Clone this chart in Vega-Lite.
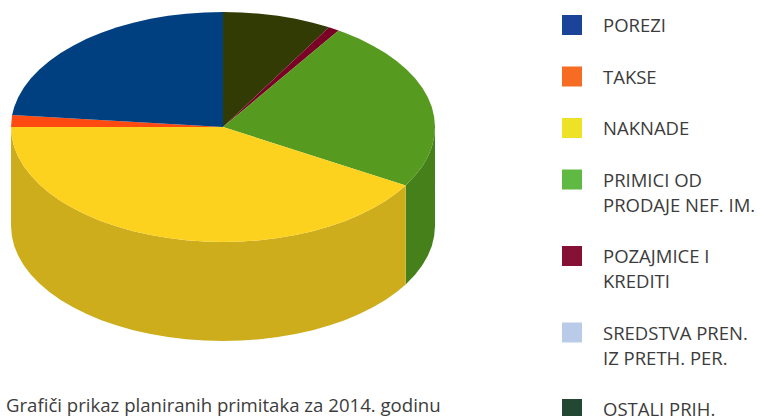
{"$schema":"https://vega.github.io/schema/vega-lite/v6.json","width":760,"height":416,"padding":0,"autosize":{"type":"none"},"background":"white","config":{"view":{"stroke":null}},
"title":{"text":"Grafiči prikaz planiranih primitaka za 2014. godinu","orient":"top","anchor":"start","frame":"group","offset":0,"dx":6,"dy":431,"baseline":"alphabetic","font":"Open Sans","fontSize":18.6,"fontWeight":"normal","color":"#3c3c3c"},
"resolve":{"scale":{"fill":"independent","color":"independent"}},
"layer":[
{"data":{"values":[
{"p":"g","i":1,"x":1,"y":0},{"p":"g","i":2,"x":0.996,"y":-0.087},{"p":"g","i":3,"x":0.985,"y":-0.174},{"p":"g","i":4,"x":0.966,"y":-0.259},{"p":"g","i":5,"x":0.94,"y":-0.342},{"p":"g","i":6,"x":0.906,"y":-0.423},{"p":"g","i":7,"x":0.866,"y":-0.5},{"p":"g","i":8,"x":0.862,"y":-0.508},
{"p":"g","i":9,"x":0.862,"y":-1.369},{"p":"g","i":10,"x":0.866,"y":-1.361},{"p":"g","i":11,"x":0.906,"y":-1.284},{"p":"g","i":12,"x":0.94,"y":-1.203},{"p":"g","i":13,"x":0.966,"y":-1.12},{"p":"g","i":14,"x":0.985,"y":-1.035},{"p":"g","i":15,"x":0.996,"y":-0.948},{"p":"g","i":16,"x":1,"y":-0.861},
{"p":"y","i":1,"x":0.862,"y":-0.508},{"p":"y","i":2,"x":0.819,"y":-0.574},{"p":"y","i":3,"x":0.766,"y":-0.643},{"p":"y","i":4,"x":0.707,"y":-0.707},{"p":"y","i":5,"x":0.643,"y":-0.766},{"p":"y","i":6,"x":0.574,"y":-0.819},{"p":"y","i":7,"x":0.5,"y":-0.866},{"p":"y","i":8,"x":0.423,"y":-0.906},{"p":"y","i":9,"x":0.342,"y":-0.94},{"p":"y","i":10,"x":0.259,"y":-0.966},{"p":"y","i":11,"x":0.174,"y":-0.985},{"p":"y","i":12,"x":0.087,"y":-0.996},{"p":"y","i":13,"x":0,"y":-1},{"p":"y","i":14,"x":-0.087,"y":-0.996},{"p":"y","i":15,"x":-0.174,"y":-0.985},{"p":"y","i":16,"x":-0.259,"y":-0.966},{"p":"y","i":17,"x":-0.342,"y":-0.94},{"p":"y","i":18,"x":-0.423,"y":-0.906},{"p":"y","i":19,"x":-0.5,"y":-0.866},{"p":"y","i":20,"x":-0.574,"y":-0.819},{"p":"y","i":21,"x":-0.643,"y":-0.766},{"p":"y","i":22,"x":-0.707,"y":-0.707},{"p":"y","i":23,"x":-0.766,"y":-0.643},{"p":"y","i":24,"x":-0.819,"y":-0.574},{"p":"y","i":25,"x":-0.866,"y":-0.5},{"p":"y","i":26,"x":-0.906,"y":-0.423},{"p":"y","i":27,"x":-0.94,"y":-0.342},{"p":"y","i":28,"x":-0.966,"y":-0.259},{"p":"y","i":29,"x":-0.985,"y":-0.174},{"p":"y","i":30,"x":-0.996,"y":-0.087},{"p":"y","i":31,"x":-1,"y":0},
{"p":"y","i":32,"x":-1,"y":-0.861},{"p":"y","i":33,"x":-0.996,"y":-0.948},{"p":"y","i":34,"x":-0.985,"y":-1.035},{"p":"y","i":35,"x":-0.966,"y":-1.12},{"p":"y","i":36,"x":-0.94,"y":-1.203},{"p":"y","i":37,"x":-0.906,"y":-1.284},{"p":"y","i":38,"x":-0.866,"y":-1.361},{"p":"y","i":39,"x":-0.819,"y":-1.435},{"p":"y","i":40,"x":-0.766,"y":-1.504},{"p":"y","i":41,"x":-0.707,"y":-1.568},{"p":"y","i":42,"x":-0.643,"y":-1.627},{"p":"y","i":43,"x":-0.574,"y":-1.68},{"p":"y","i":44,"x":-0.5,"y":-1.727},{"p":"y","i":45,"x":-0.423,"y":-1.767},{"p":"y","i":46,"x":-0.342,"y":-1.801},{"p":"y","i":47,"x":-0.259,"y":-1.827},{"p":"y","i":48,"x":-0.174,"y":-1.846},{"p":"y","i":49,"x":-0.087,"y":-1.857},{"p":"y","i":50,"x":0,"y":-1.861},{"p":"y","i":51,"x":0.087,"y":-1.857},{"p":"y","i":52,"x":0.174,"y":-1.846},{"p":"y","i":53,"x":0.259,"y":-1.827},{"p":"y","i":54,"x":0.342,"y":-1.801},{"p":"y","i":55,"x":0.423,"y":-1.767},{"p":"y","i":56,"x":0.5,"y":-1.727},{"p":"y","i":57,"x":0.574,"y":-1.68},{"p":"y","i":58,"x":0.643,"y":-1.627},{"p":"y","i":59,"x":0.707,"y":-1.568},{"p":"y","i":60,"x":0.766,"y":-1.504},{"p":"y","i":61,"x":0.819,"y":-1.435},{"p":"y","i":62,"x":0.862,"y":-1.369}
]},
"mark":{"type":"line","filled":true},
"encoding":{
"x":{"field":"x","type":"quantitative","scale":{"domain":[-1.052,2.533],"nice":false,"zero":false},"axis":null},
"y":{"field":"y","type":"quantitative","scale":{"domain":[-2.513,1.104],"nice":false,"zero":false},"axis":null},
"order":{"field":"i"},
"fill":{"field":"p","type":"nominal","scale":{"domain":["g","y"],"range":["#46801a","#cead1d"]},"legend":null}
}},
{"data":{"values":[
{"s":"OSTALI PRIH.","i":1,"x":0,"y":0},{"s":"OSTALI PRIH.","i":2,"x":0,"y":1},{"s":"OSTALI PRIH.","i":3,"x":0.087,"y":0.996},{"s":"OSTALI PRIH.","i":4,"x":0.174,"y":0.985},{"s":"OSTALI PRIH.","i":5,"x":0.259,"y":0.966},{"s":"OSTALI PRIH.","i":6,"x":0.342,"y":0.94},{"s":"OSTALI PRIH.","i":7,"x":0.423,"y":0.906},{"s":"OSTALI PRIH.","i":8,"x":0.5,"y":0.866},
{"s":"POZAJMICE I KREDITI","i":1,"x":0,"y":0},{"s":"POZAJMICE I KREDITI","i":2,"x":0.5,"y":0.866},{"s":"POZAJMICE I KREDITI","i":3,"x":0.545,"y":0.839},
{"s":"PRIMICI OD PRODAJE NEF. IM.","i":1,"x":0,"y":0},{"s":"PRIMICI OD PRODAJE NEF. IM.","i":2,"x":0.545,"y":0.839},{"s":"PRIMICI OD PRODAJE NEF. IM.","i":3,"x":0.574,"y":0.819},{"s":"PRIMICI OD PRODAJE NEF. IM.","i":4,"x":0.643,"y":0.766},{"s":"PRIMICI OD PRODAJE NEF. IM.","i":5,"x":0.707,"y":0.707},{"s":"PRIMICI OD PRODAJE NEF. IM.","i":6,"x":0.766,"y":0.643},{"s":"PRIMICI OD PRODAJE NEF. IM.","i":7,"x":0.819,"y":0.574},{"s":"PRIMICI OD PRODAJE NEF. IM.","i":8,"x":0.866,"y":0.5},{"s":"PRIMICI OD PRODAJE NEF. IM.","i":9,"x":0.906,"y":0.423},{"s":"PRIMICI OD PRODAJE NEF. IM.","i":10,"x":0.94,"y":0.342},{"s":"PRIMICI OD PRODAJE NEF. IM.","i":11,"x":0.966,"y":0.259},{"s":"PRIMICI OD PRODAJE NEF. IM.","i":12,"x":0.985,"y":0.174},{"s":"PRIMICI OD PRODAJE NEF. IM.","i":13,"x":0.996,"y":0.087},{"s":"PRIMICI OD PRODAJE NEF. IM.","i":14,"x":1,"y":0},{"s":"PRIMICI OD PRODAJE NEF. IM.","i":15,"x":0.996,"y":-0.087},{"s":"PRIMICI OD PRODAJE NEF. IM.","i":16,"x":0.985,"y":-0.174},{"s":"PRIMICI OD PRODAJE NEF. IM.","i":17,"x":0.966,"y":-0.259},{"s":"PRIMICI OD PRODAJE NEF. IM.","i":18,"x":0.94,"y":-0.342},{"s":"PRIMICI OD PRODAJE NEF. IM.","i":19,"x":0.906,"y":-0.423},{"s":"PRIMICI OD PRODAJE NEF. IM.","i":20,"x":0.866,"y":-0.5},{"s":"PRIMICI OD PRODAJE NEF. IM.","i":21,"x":0.862,"y":-0.508},
{"s":"NAKNADE","i":1,"x":0,"y":0},{"s":"NAKNADE","i":2,"x":0.862,"y":-0.508},{"s":"NAKNADE","i":3,"x":0.819,"y":-0.574},{"s":"NAKNADE","i":4,"x":0.766,"y":-0.643},{"s":"NAKNADE","i":5,"x":0.707,"y":-0.707},{"s":"NAKNADE","i":6,"x":0.643,"y":-0.766},{"s":"NAKNADE","i":7,"x":0.574,"y":-0.819},{"s":"NAKNADE","i":8,"x":0.5,"y":-0.866},{"s":"NAKNADE","i":9,"x":0.423,"y":-0.906},{"s":"NAKNADE","i":10,"x":0.342,"y":-0.94},{"s":"NAKNADE","i":11,"x":0.259,"y":-0.966},{"s":"NAKNADE","i":12,"x":0.174,"y":-0.985},{"s":"NAKNADE","i":13,"x":0.087,"y":-0.996},{"s":"NAKNADE","i":14,"x":0,"y":-1},{"s":"NAKNADE","i":15,"x":-0.087,"y":-0.996},{"s":"NAKNADE","i":16,"x":-0.174,"y":-0.985},{"s":"NAKNADE","i":17,"x":-0.259,"y":-0.966},{"s":"NAKNADE","i":18,"x":-0.342,"y":-0.94},{"s":"NAKNADE","i":19,"x":-0.423,"y":-0.906},{"s":"NAKNADE","i":20,"x":-0.5,"y":-0.866},{"s":"NAKNADE","i":21,"x":-0.574,"y":-0.819},{"s":"NAKNADE","i":22,"x":-0.643,"y":-0.766},{"s":"NAKNADE","i":23,"x":-0.707,"y":-0.707},{"s":"NAKNADE","i":24,"x":-0.766,"y":-0.643},{"s":"NAKNADE","i":25,"x":-0.819,"y":-0.574},{"s":"NAKNADE","i":26,"x":-0.866,"y":-0.5},{"s":"NAKNADE","i":27,"x":-0.906,"y":-0.423},{"s":"NAKNADE","i":28,"x":-0.94,"y":-0.342},{"s":"NAKNADE","i":29,"x":-0.966,"y":-0.259},{"s":"NAKNADE","i":30,"x":-0.985,"y":-0.174},{"s":"NAKNADE","i":31,"x":-0.996,"y":-0.087},{"s":"NAKNADE","i":32,"x":-1,"y":0},
{"s":"TAKSE","i":1,"x":0,"y":0},{"s":"TAKSE","i":2,"x":-1,"y":0},{"s":"TAKSE","i":3,"x":-0.996,"y":0.087},{"s":"TAKSE","i":4,"x":-0.995,"y":0.105},
{"s":"POREZI","i":1,"x":0,"y":0},{"s":"POREZI","i":2,"x":-0.995,"y":0.105},{"s":"POREZI","i":3,"x":-0.985,"y":0.174},{"s":"POREZI","i":4,"x":-0.966,"y":0.259},{"s":"POREZI","i":5,"x":-0.94,"y":0.342},{"s":"POREZI","i":6,"x":-0.906,"y":0.423},{"s":"POREZI","i":7,"x":-0.866,"y":0.5},{"s":"POREZI","i":8,"x":-0.819,"y":0.574},{"s":"POREZI","i":9,"x":-0.766,"y":0.643},{"s":"POREZI","i":10,"x":-0.707,"y":0.707},{"s":"POREZI","i":11,"x":-0.643,"y":0.766},{"s":"POREZI","i":12,"x":-0.574,"y":0.819},{"s":"POREZI","i":13,"x":-0.5,"y":0.866},{"s":"POREZI","i":14,"x":-0.423,"y":0.906},{"s":"POREZI","i":15,"x":-0.342,"y":0.94},{"s":"POREZI","i":16,"x":-0.259,"y":0.966},{"s":"POREZI","i":17,"x":-0.174,"y":0.985},{"s":"POREZI","i":18,"x":-0.087,"y":0.996},{"s":"POREZI","i":19,"x":0,"y":1}
]},
"mark":{"type":"line","filled":true},
"encoding":{
"x":{"field":"x","type":"quantitative","scale":{"domain":[-1.052,2.533],"nice":false,"zero":false},"axis":null},
"y":{"field":"y","type":"quantitative","scale":{"domain":[-2.513,1.104],"nice":false,"zero":false},"axis":null},
"order":{"field":"i"},
"fill":{"field":"s","type":"nominal","legend":null,
"scale":{"domain":["POREZI","TAKSE","NAKNADE","PRIMICI OD PRODAJE NEF. IM.","POZAJMICE I KREDITI","SREDSTVA PREN. IZ PRETH. PER.","OSTALI PRIH."],"range":["#004080","#ff4b12","#fdd21f","#569b1f","#7b0026","#b9cbe8","#323b04"]}}
}},
{"data":{"values":[{"s":"POREZI"},{"s":"TAKSE"},{"s":"NAKNADE"},{"s":"PRIMICI OD PRODAJE NEF. IM."},{"s":"POZAJMICE I KREDITI"},{"s":"SREDSTVA PREN. IZ PRETH. PER."},{"s":"OSTALI PRIH."}]},
"mark":{"type":"square","opacity":0},
"encoding":{
"color":{"field":"s","type":"nominal",
"scale":{"domain":["POREZI","TAKSE","NAKNADE","PRIMICI OD PRODAJE NEF. IM.","POZAJMICE I KREDITI","SREDSTVA PREN. IZ PRETH. PER.","OSTALI PRIH."],"range":["#1a4399","#f56c22","#eee226","#60b943","#851136","#b9cbe8","#224733"]},
"legend":{"orient":"none","legendX":562,"legendY":15,"title":null,"padding":0,"symbolType":"square","symbolSize":400,"symbolStrokeWidth":0,"symbolOpacity":1,"labelFont":"Open Sans","labelFontSize":18.5,"labelColor":"#3c3c3c","labelLimit":200,"labelOffset":21,"rowPadding":30.5,
"labelExpr":"{'PRIMICI OD PRODAJE NEF. IM.':['PRIMICI OD','PRODAJE NEF. IM.'],'POZAJMICE I KREDITI':['POZAJMICE I','KREDITI'],'SREDSTVA PREN. IZ PRETH. PER.':['SREDSTVA PREN.','IZ PRETH. PER.']}[datum.label]||datum.label",
"encoding":{"labels":{"lineHeight":{"value":25},"baseline":{"value":"top"},"dy":{"value":-8}}}}
}
}}
]}
